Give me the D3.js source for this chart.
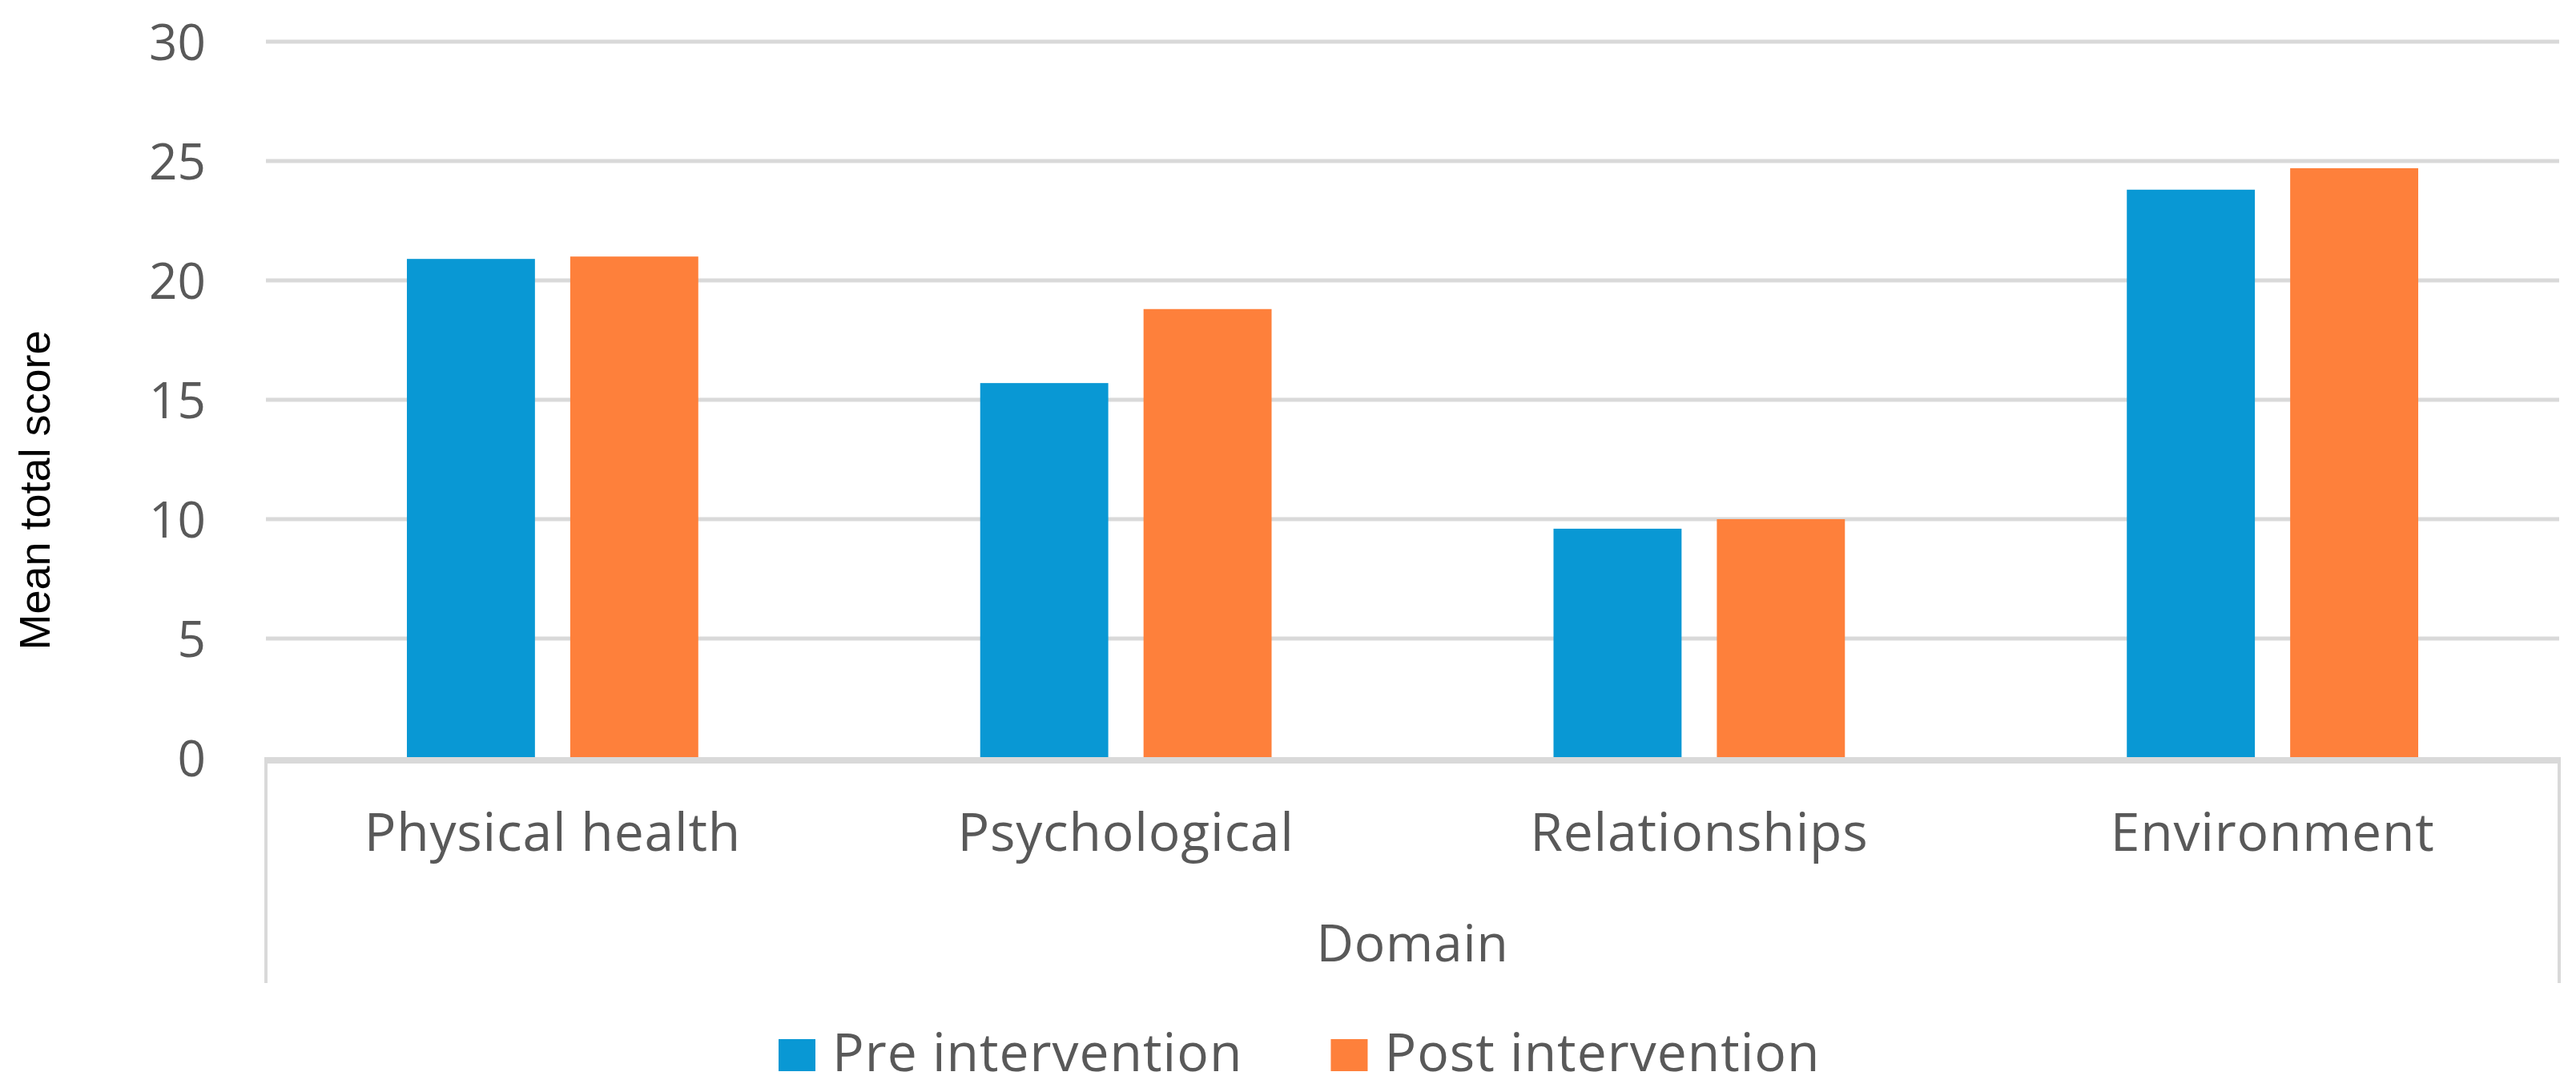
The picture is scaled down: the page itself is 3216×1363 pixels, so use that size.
<!DOCTYPE html>
<html>
<head>
<meta charset="utf-8">
<script src="https://cdn.jsdelivr.net/npm/d3@7"></script>
<style>
  body { margin: 0; background: #fff; }
  text { font-family: "Open Sans", sans-serif; fill: #595959; }
</style>
</head>
<body>
<script>
let domains = ["Physical health", "Psychological", "Relationships", "Environment"]
let series = ["Pre intervention", "Post intervention"]
let preValues = [20.9, 15.7, 9.6, 23.8]
let postValues = [21.0, 18.8, 10.0, 24.7]
let yTicks = [0, 5, 10, 15, 20, 25, 30]
let colors = ["#0998d4", "#fe803b"]

let W = 3216, H = 1363
let margin = {left: 332, right: 3195, top: 52, bottom: 946}

let data = domains.map((d, i) => ({domain: d, values: [preValues[i], postValues[i]]}))

let svg = d3.select("body").append("svg").attr("width", W).attr("height", H)

let x0 = d3.scaleBand().domain(domains).range([margin.left, margin.right]).padding(0)
let x1 = d3.scaleBand().domain(series).range([0, x0.bandwidth()])
              .paddingInner(0.216).paddingOuter(0.863)
let y = d3.scaleLinear().domain([0, 30]).range([margin.bottom, margin.top])

// gridlines
svg.append("g").selectAll("line").data(yTicks.filter(t => t > 0)).enter().append("line")
   .attr("x1", margin.left).attr("x2", margin.right)
   .attr("y1", d => y(d)).attr("y2", d => y(d))
   .attr("stroke", "#d9d9d9").attr("stroke-width", 5)

// y axis labels
let yAxis = svg.append("g").attr("transform", "translate(" + margin.left + ",0)")
   .call(d3.axisLeft(y).tickValues(yTicks).tickSize(0).tickPadding(75))
yAxis.select(".domain").remove()
yAxis.selectAll("text").style("font-size", "62px").attr("fill", "#595959")
     .attr("dy", "0.36em").style("font-family", "'Open Sans', sans-serif")

// bars
svg.append("g").selectAll("g").data(data).enter().append("g")
   .attr("transform", d => "translate(" + x0(d.domain) + ",0)")
   .selectAll("rect").data(d => d.values.map((v, i) => ({s: series[i], v: v, i: i})))
   .enter().append("rect")
   .attr("x", d => x1(d.s)).attr("width", x1.bandwidth())
   .attr("y", d => y(d.v)).attr("height", d => y(0) - y(d.v))
   .attr("fill", d => colors[d.i])

// category axis box
svg.append("line").attr("x1", margin.left - 2).attr("x2", margin.right + 2)
   .attr("y1", margin.bottom + 3).attr("y2", margin.bottom + 3)
   .attr("stroke", "#d9d9d9").attr("stroke-width", 8)
svg.append("g").selectAll("line").data([margin.left, margin.right]).enter().append("line")
   .attr("x1", d => d).attr("x2", d => d)
   .attr("y1", margin.bottom).attr("y2", 1227)
   .attr("stroke", "#d9d9d9").attr("stroke-width", 4)

svg.append("g").selectAll("text").data(domains).enter().append("text")
   .attr("x", d => x0(d) + x0.bandwidth() / 2).attr("y", 1062)
   .attr("text-anchor", "middle").style("font-size", "66px").style("letter-spacing", "0.8px")
   .text(d => d)

svg.append("text").attr("x", (margin.left + margin.right) / 2).attr("y", 1200)
   .attr("text-anchor", "middle").style("font-size", "64px").style("letter-spacing", "0.8px")
   .text("Domain")

// y axis title
svg.append("text").attr("transform", "translate(62,612) rotate(-90)")
   .attr("text-anchor", "middle")
   .style("font-family", "'Liberation Sans', Arial, sans-serif")
   .style("font-size", "54px").style("fill", "#000")
   .text("Mean total score")

// legend
let legend = svg.append("g")
let lx = 972
series.forEach((s, i) => {
  legend.append("rect").attr("x", lx).attr("y", 1297).attr("width", 46).attr("height", 40)
        .attr("fill", colors[i])
  let t = legend.append("text").attr("x", lx + 67).attr("y", 1337)
        .style("font-size", "66px").style("letter-spacing", "1px").text(s)
  lx += 67 + t.node().getComputedTextLength() + 110
})
</script>
</body>
</html>
